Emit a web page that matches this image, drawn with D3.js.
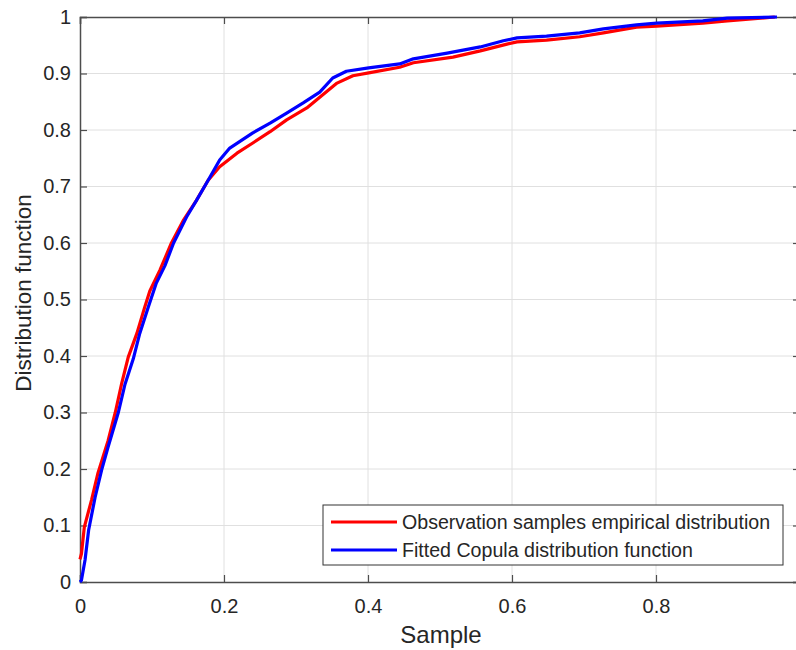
<!DOCTYPE html>
<html>
<head>
<meta charset="utf-8">
<script src="https://cdn.jsdelivr.net/npm/d3@7"></script>
<style>
  body { margin: 0; background: #fff; }
  text { font-family: "Liberation Sans", Arial, Helvetica, sans-serif; fill: #262626; }
</style>
</head>
<body>
<svg id="chart1"></svg>
<script>
// Data
var xTicks = [0, 0.2, 0.4, 0.6, 0.8];
var yTicks = [0, 0.1, 0.2, 0.3, 0.4, 0.5, 0.6, 0.7, 0.8, 0.9, 1];
var xTickLabels = ["0", "0.2", "0.4", "0.6", "0.8"];
var yTickLabels = ["0", "0.1", "0.2", "0.3", "0.4", "0.5", "0.6", "0.7", "0.8", "0.9", "1"];

var empiricalX = [0, 0.002, 0.006, 0.016, 0.025, 0.039, 0.049, 0.058, 0.067, 0.079, 0.09, 0.097,
  0.111, 0.127, 0.144, 0.162, 0.178, 0.194, 0.218, 0.24, 0.264, 0.287, 0.315, 0.333, 0.357,
  0.379, 0.401, 0.444, 0.463, 0.518, 0.556, 0.593, 0.607, 0.648, 0.694, 0.727, 0.773, 0.801,
  0.865, 0.899, 0.965];
var empiricalY = [0.04, 0.05, 0.097, 0.145, 0.193, 0.25, 0.30, 0.352, 0.398, 0.44, 0.487, 0.515,
  0.552, 0.60, 0.641, 0.676, 0.711, 0.735, 0.759, 0.777, 0.797, 0.818, 0.839, 0.858, 0.883,
  0.896, 0.901, 0.911, 0.919, 0.929, 0.94, 0.952, 0.956, 0.959, 0.965, 0.972, 0.982, 0.984,
  0.989, 0.993, 1.0];

var copulaX = [0, 0.002, 0.007, 0.012, 0.021, 0.03, 0.039, 0.053, 0.0625, 0.074, 0.083, 0.095,
  0.106, 0.118, 0.13, 0.148, 0.162, 0.178, 0.194, 0.208, 0.24, 0.264, 0.287, 0.31, 0.333,
  0.351, 0.37, 0.401, 0.444, 0.463, 0.51, 0.556, 0.588, 0.607, 0.648, 0.694, 0.727, 0.773,
  0.801, 0.865, 0.899, 0.968];
var copulaY = [0, 0.003, 0.039, 0.092, 0.15, 0.198, 0.239, 0.299, 0.35, 0.395, 0.44, 0.487,
  0.529, 0.56, 0.6, 0.646, 0.676, 0.711, 0.747, 0.768, 0.795, 0.812, 0.83, 0.848, 0.867,
  0.892, 0.904, 0.91, 0.917, 0.926, 0.936, 0.947, 0.958, 0.963, 0.966, 0.972, 0.979, 0.986,
  0.989, 0.993, 0.998, 1.0];

var seriesNames = ["Observation samples empirical distribution", "Fitted Copula distribution function"];
var seriesColors = ["#ff0000", "#0000ff"];

var W = 796, H = 650;
var svg = d3.select("#chart1").attr("width", W).attr("height", H);

var x = d3.scaleLinear().domain([0, 1]).range([80, 800]);
var y = d3.scaleLinear().domain([0, 1]).range([582, 17]);

// grid
svg.append("g").selectAll("line").data(xTicks.slice(1)).enter().append("line")
  .attr("x1", function(d) { return x(d); }).attr("x2", function(d) { return x(d); })
  .attr("y1", y(0)).attr("y2", y(1))
  .attr("stroke", "#e0e0e0").attr("stroke-width", 1);
svg.append("g").selectAll("line").data(yTicks.slice(1, -1)).enter().append("line")
  .attr("x1", x(0)).attr("x2", x(1))
  .attr("y1", function(d) { return y(d); }).attr("y2", function(d) { return y(d); })
  .attr("stroke", "#e0e0e0").attr("stroke-width", 1);

// axes (box with inward ticks)
var axisColor = "#4d4d4d";
var xAxis = svg.append("g").attr("transform", "translate(0," + y(0) + ")")
  .call(d3.axisBottom(x).tickValues(xTicks).tickSize(-7).tickPadding(17)
    .tickFormat(function(d, i) { return xTickLabels[i]; }));
var yAxis = svg.append("g").attr("transform", "translate(" + x(0) + ",0)")
  .call(d3.axisLeft(y).tickValues(yTicks).tickSize(-7).tickPadding(9)
    .tickFormat(function(d, i) { return yTickLabels[i]; }));
var xTop = svg.append("g").attr("transform", "translate(0," + y(1) + ")")
  .call(d3.axisTop(x).tickValues(xTicks).tickSize(-7).tickFormat(""));
var yRight = svg.append("g").attr("transform", "translate(" + x(1) + ",0)")
  .call(d3.axisRight(y).tickValues(yTicks).tickSize(-7).tickFormat(""));

[xAxis, yAxis, xTop, yRight].forEach(function(a) {
  a.selectAll("path").attr("stroke", axisColor).attr("stroke-width", 1.5);
  a.selectAll("line").attr("stroke", axisColor).attr("stroke-width", 1.2);
  a.selectAll("text").style("font-size", "20px").style("fill", "#262626")
    .style("font-family", "'Liberation Sans', Arial, sans-serif");
});

// lines
var line = d3.line().x(function(d) { return x(d[0]); }).y(function(d) { return y(d[1]); });
var empirical = empiricalX.map(function(v, i) { return [v, empiricalY[i]]; });
var copula = copulaX.map(function(v, i) { return [v, copulaY[i]]; });

svg.append("path").datum(empirical).attr("d", line)
  .attr("fill", "none").attr("stroke", seriesColors[0]).attr("stroke-width", 3.2)
  .attr("stroke-linejoin", "round");
svg.append("path").datum(copula).attr("d", line)
  .attr("fill", "none").attr("stroke", seriesColors[1]).attr("stroke-width", 3.2)
  .attr("stroke-linejoin", "round");

// axis labels
svg.append("text")
  .attr("x", 441).attr("y", 643)
  .attr("text-anchor", "middle")
  .style("font-size", "24px")
  .text("Sample");

svg.append("text")
  .attr("transform", "translate(31,293) rotate(-90)")
  .attr("text-anchor", "middle")
  .style("font-size", "22.5px")
  .text("Distribution function");

// legend
var legend = svg.append("g");
legend.append("rect")
  .attr("x", 323).attr("y", 505).attr("width", 460).attr("height", 60)
  .attr("fill", "#fff").attr("stroke", "#333").attr("stroke-width", 1);

legend.selectAll("line.key").data(seriesNames).enter().append("line")
  .attr("x1", 331).attr("x2", 397)
  .attr("y1", function(d, i) { return 522 + i * 28; })
  .attr("y2", function(d, i) { return 522 + i * 28; })
  .attr("stroke", function(d, i) { return seriesColors[i]; })
  .attr("stroke-width", 3.2);

legend.selectAll("text").data(seriesNames).enter().append("text")
  .attr("x", 402)
  .attr("y", function(d, i) { return 529 + i * 28; })
  .style("font-size", "19.6px")
  .text(function(d) { return d; });
</script>
</body>
</html>
